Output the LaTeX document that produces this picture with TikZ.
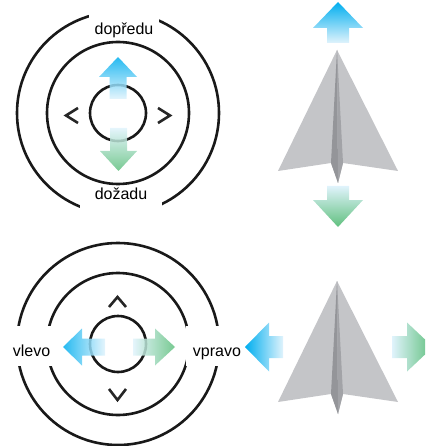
\documentclass[tikz,border=0pt]{standalone}
\usepackage{fontspec}
\setmainfont{Liberation Sans}
\definecolor{skyblue}{RGB}{0,174,239}
\definecolor{leafgreen}{RGB}{96,192,126}
\definecolor{paleblue}{RGB}{224,243,252}
\definecolor{wingfill}{RGB}{196,197,200}
\definecolor{keelleft}{RGB}{148,149,153}
\definecolor{keelright}{RGB}{162,163,167}
% arrow outlines: axis position, tip, head base, tail end, head half width, shaft half width
\newcommand\varrowpath[6]{(#1,#2) -- ({#1+#5},#3) -- ({#1+#6},#3) -- ({#1+#6},#4) -- ({#1-#6},#4) -- ({#1-#6},#3) -- ({#1-#5},#3) -- cycle}
\newcommand\harrowpath[6]{(#2,#1) -- (#3,{#1+#5}) -- (#3,{#1+#6}) -- (#4,{#1+#6}) -- (#4,{#1-#6}) -- (#3,{#1-#6}) -- (#3,{#1-#5}) -- cycle}
\begin{document}
\begin{tikzpicture}[x=1pt,y=-1pt,
  ring/.style={draw=black!90, line width=2.6pt},
  chev/.style={draw=black!85, line width=2.6pt, line join=miter},
  tag/.style={fill=white, inner ysep=1pt, font=\fontsize{16}{19}\selectfont, anchor=base},
  blueup/.style={top color=skyblue, bottom color=paleblue},
  greendown/.style={top color=paleblue, bottom color=leafgreen},
  blueleft/.style={left color=skyblue, right color=paleblue},
  greenright/.style={left color=paleblue, right color=leafgreen},
  soft/.style={opacity=0.85},
  plane/.pic={
    \fill[wingfill] (0,0) -- (-59,121) -- (-6,113) -- (1,133) -- (6,113) -- (61,121) -- cycle;
    \fill[keelleft] (0,0) -- (-6,113) -- (1,133) -- cycle;
    \fill[keelright] (0,0) -- (1,133) -- (6,113) -- cycle;
  }]
\useasboundingbox (0,0) rectangle (425,446);
\clip (0,0) rectangle (425,446);

% forward / backward control rings
\draw[ring] (118,113) circle[radius=101];
\draw[ring] (118,113) circle[radius=71];
\draw[ring] (118,113) circle[radius=28];
\node[tag, inner xsep=6pt, text height=24pt, text depth=3pt] (fwd) at (124,35) {dopředu};
\node[tag, inner xsep=15pt, text height=11pt, text depth=16pt] (back) at (121,200) {dožadu};
\draw[chev] (78,108) -- (66,115.5) -- (78,123);
\draw[chev] (158,108) -- (170,115.5) -- (158,123);
\shade[blueup, soft] \varrowpath{118}{57}{77}{99}{19}{8.5};
\shade[greendown, soft] \varrowpath{118.5}{171}{151}{128}{18.5}{8.5};

% left / right control rings
\draw[ring] (118,344) circle[radius=101];
\draw[ring] (118,344) circle[radius=71];
\draw[ring] (118,344) circle[radius=28];
\node[tag, inner xsep=4pt, text height=29pt, text depth=9pt] (lft) at (31.5,356) {vlevo};
\node[tag, inner xsep=7pt, text height=29pt, text depth=9pt] (rgt) at (217,356) {vpravo};
\draw[chev] (109,307) -- (117.5,297) -- (126,307);
\draw[chev] (109,389) -- (117.5,400) -- (126,389);
\shade[blueleft, soft] \harrowpath{347}{63}{82}{105}{18.5}{8.5};
\shade[greenright, soft] \harrowpath{347}{175}{155}{133}{18.5}{8.5};

% paper planes with their motion arrows
\pic (planeA) at (337,50) {plane};
\shade[blueup] \varrowpath{338}{2}{28}{43}{25}{11};
\shade[greendown] \varrowpath{338}{227}{200}{186}{25}{11};

\pic (planeB) at (337,281) {plane};
\shade[blueleft] \harrowpath{347}{245}{269}{283}{24.5}{11};
\shade[greenright] \harrowpath{347}{433}{407}{392}{24.5}{11};
\end{tikzpicture}
\end{document}
